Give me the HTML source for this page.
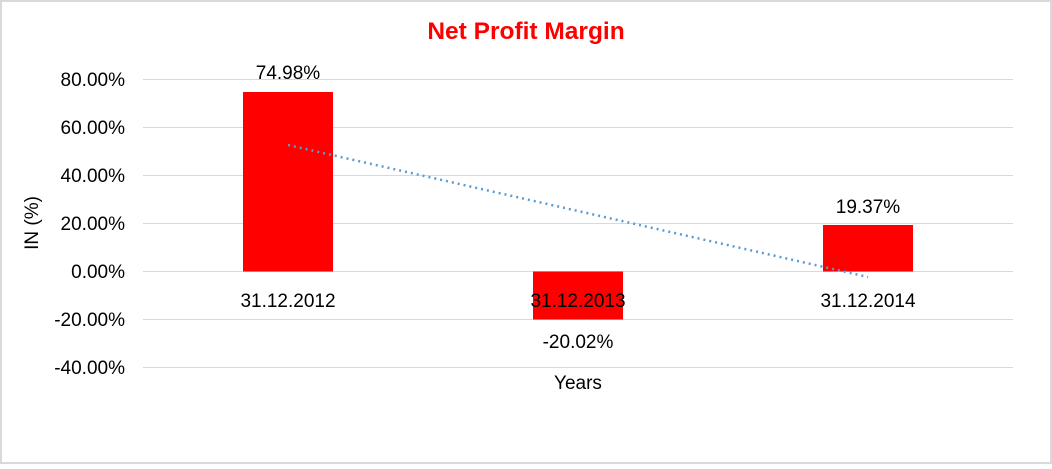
<!DOCTYPE html>
<html><head><style>
html,body{margin:0;padding:0;background:#fff}
</style></head><body>
<svg width="1052" height="464" xmlns="http://www.w3.org/2000/svg" font-family="Liberation Sans, sans-serif">
<rect x="1" y="1" width="1050" height="462" fill="#fff" stroke="#d9d9d9" stroke-width="2"/>
<text x="526" y="39" text-anchor="middle" font-size="24.5" font-weight="bold" fill="#ff0000">Net Profit Margin</text>
<g stroke="#d9d9d9" stroke-width="1">
<line x1="143" x2="1013" y1="79.5" y2="79.5"/>
<line x1="143" x2="1013" y1="127.5" y2="127.5"/>
<line x1="143" x2="1013" y1="175.5" y2="175.5"/>
<line x1="143" x2="1013" y1="223.5" y2="223.5"/>
<line x1="143" x2="1013" y1="271.5" y2="271.5"/>
<line x1="143" x2="1013" y1="319.5" y2="319.5"/>
<line x1="143" x2="1013" y1="367.5" y2="367.5"/>
</g>
<g font-size="19" text-anchor="end" fill="#000">
<text x="125" y="86">80.00%</text>
<text x="125" y="134">60.00%</text>
<text x="125" y="182">40.00%</text>
<text x="125" y="230">20.00%</text>
<text x="125" y="278">0.00%</text>
<text x="125" y="326">-20.00%</text>
<text x="125" y="374">-40.00%</text>
</g>
<rect x="243" y="92" width="90" height="179.5" fill="#ff0000"/>
<rect x="533" y="271.5" width="90" height="48" fill="#ff0000"/>
<rect x="823" y="225" width="90" height="46.5" fill="#ff0000"/>
<line x1="288" y1="145" x2="868" y2="277" stroke="#5b9bd5" stroke-width="2.5" stroke-dasharray="2,4"/>
<g font-size="19" text-anchor="middle" fill="#000">
<text x="288" y="79">74.98%</text>
<text x="578" y="348">-20.02%</text>
<text x="868" y="213">19.37%</text>
<text x="288" y="307">31.12.2012</text>
<text x="578" y="307">31.12.2013</text>
<text x="868" y="307">31.12.2014</text>
<text x="578" y="389">Years</text>
<text transform="translate(38,223) rotate(-90)">IN (%)</text>
</g>
</svg>
</body></html>
